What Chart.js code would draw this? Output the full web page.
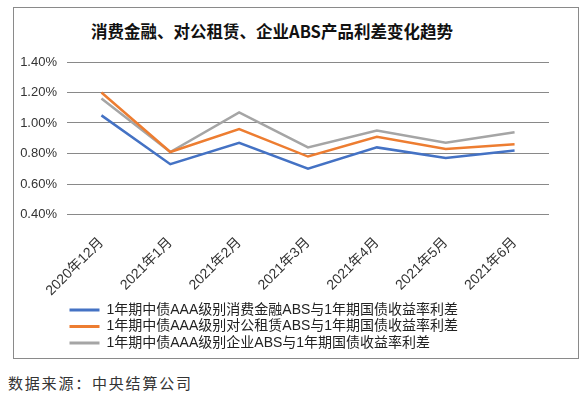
<!DOCTYPE html>
<html>
<head>
<meta charset="utf-8">
<script src="https://cdn.jsdelivr.net/npm/chart.js@4"></script>
<style>
    body { margin: 0; background: #fff; }
    #frame { position: absolute; left: 13px; top: 7px; width: 564px; height: 350px; border: 1px solid #8a8a8a; }
    #title { position: absolute; left: 0; width: 544px; top: 19px; text-align: center;
             font: bold 16.5px "Noto Sans CJK SC", sans-serif; color: #111; }
    #wrap { position: absolute; left: 0; top: 0; width: 584px; height: 368px; }
    #source { position: absolute; left: 8px; top: 372px; font: 15px "Noto Sans CJK SC", sans-serif;
              color: #333; letter-spacing: 1.8px; }
</style>
</head>
<body>
<div id="frame"></div>
<div id="title">消费金融、对公租赁、企业ABS产品利差变化趋势</div>
<div id="wrap"><canvas id="spreadChart"></canvas></div>
<div id="source">数据来源：中央结算公司</div>
<script>
const months = ['2020年12月', '2021年1月', '2021年2月', '2021年3月', '2021年4月', '2021年5月', '2021年6月'];
const consumerSpread = [1.05, 0.73, 0.87, 0.70, 0.84, 0.77, 0.82];
const leasingSpread = [1.20, 0.81, 0.96, 0.78, 0.91, 0.83, 0.86];
const corporateSpread = [1.16, 0.81, 1.07, 0.84, 0.95, 0.87, 0.94];
const seriesNames = [
    '1年期中债AAA级别消费金融ABS与1年期国债收益率利差',
    '1年期中债AAA级别对公租赁ABS与1年期国债收益率利差',
    '1年期中债AAA级别企业ABS与1年期国债收益率利差'
];

const fontFamily = '"Liberation Sans", "Noto Sans CJK SC", sans-serif';

function makeLine(label, data, color) {
    return {
        label: label,
        data: data,
        borderColor: color,
        backgroundColor: color,
        borderWidth: 2.5,
        pointRadius: 0,
        tension: 0
    };
}

const ctx = document.getElementById('spreadChart').getContext('2d');
const spreadChart = new Chart(ctx, {
    type: 'line',
    data: {
        labels: months,
        datasets: [
            makeLine(seriesNames[0], consumerSpread, '#4472C4'),
            makeLine(seriesNames[1], leasingSpread, '#ED7D31'),
            makeLine(seriesNames[2], corporateSpread, '#A5A5A5')
        ]
    },
    options: {
        responsive: true,
        maintainAspectRatio: false,
        animation: false,
        layout: { padding: { left: 14, right: 35, top: 62, bottom: 8 } },
        scales: {
            x: {
                offset: true,
                grid: { display: false },
                border: { display: false },
                ticks: {
                    minRotation: 45,
                    maxRotation: 45,
                    color: '#333',
                    padding: 12,
                    font: { family: fontFamily, size: 14 }
                },
                afterFit: function(scale) { scale.height = 86; }
            },
            y: {
                min: 0.4,
                max: 1.4,
                border: { display: false },
                grid: { color: '#898989', lineWidth: 1, drawTicks: false },
                ticks: {
                    stepSize: 0.2,
                    padding: 10,
                    color: '#333',
                    font: { family: fontFamily, size: 13 },
                    callback: function(value) { return value.toFixed(2) + '%'; }
                },
                afterFit: function(scale) { scale.width = 53; }
            }
        },
        plugins: {
            tooltip: { enabled: false },
            legend: {
                position: 'bottom',
                align: 'start',
                fullSize: false,
                labels: {
                    boxWidth: 30,
                    boxHeight: 3,
                    padding: 2.5,
                    color: '#222',
                    font: { family: fontFamily, size: 14 },
                    generateLabels: function(chart) {
                        const items = Chart.defaults.plugins.legend.labels.generateLabels(chart);
                        items.forEach(function(item) { item.lineWidth = 0; });
                        return items;
                    }
                }
            }
        }
    }
});
</script>
</body>
</html>
